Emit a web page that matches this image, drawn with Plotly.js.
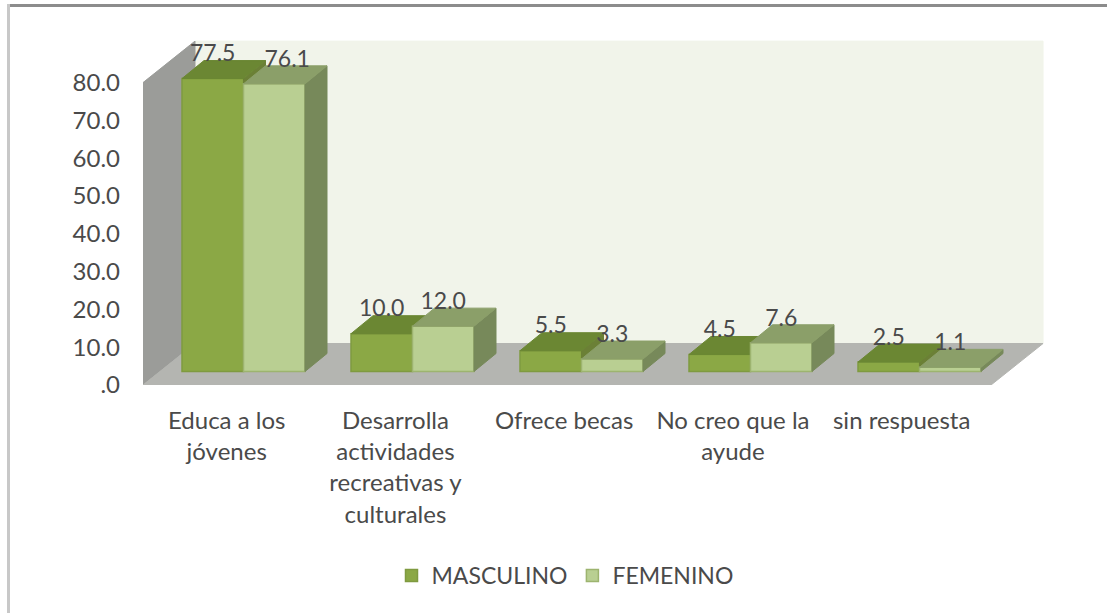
<!DOCTYPE html>
<html>
<head>
<meta charset="utf-8">
<script src="https://cdn.plot.ly/plotly-3.0.1.min.js"></script>
<style>
html,body{margin:0;padding:0;background:#fff;overflow:hidden}
#chart{width:1107px;height:613px;position:relative}
#frameTop{position:absolute;left:7px;right:0;top:4px;height:3px;background:#8c8c8c;z-index:5}
#frameLeft{position:absolute;left:7px;top:4px;bottom:0;width:3px;background:#c8c8c8;z-index:5}
</style>
</head>
<body>
<div id="chart"></div>
<div id="frameTop"></div>
<div id="frameLeft"></div>
<script>
var categories = ["Educa a los<br>jóvenes", "Desarrolla<br>actividades<br>recreativas y<br>culturales", "Ofrece becas", "No creo que la<br>ayude", "sin respuesta"];
var masculino = [77.5, 10.0, 5.5, 4.5, 2.5];
var femenino = [76.1, 12.0, 3.3, 7.6, 1.1];
var yTickVals = [0, 10, 20, 30, 40, 50, 60, 70, 80];
var yTickText = [".0", "10.0", "20.0", "30.0", "40.0", "50.0", "60.0", "70.0", "80.0"];

// scale, in data units
var PX_X = 169.4, PX_Y = 3.78;
var wallDX = 52 / PX_X, wallDY = 41.5 / PX_Y;
var barBase = 13.5 / PX_Y, barShift = 39 / PX_X - 0.5, barStep = 169 / PX_X;
var barW = 61.5 / PX_X, barDX = 22 / PX_X, barDY = 18 / PX_Y;
var labelUp = 23 / PX_Y;
var femLabelShift = [13 / PX_X, 0, 0, 0, 0];
var tickStart = -1 / PX_X, tickStep = 168.75 / PX_X;
var xMin = -0.5, xMax = xMin + 917 / PX_X, yMax = 365 / PX_Y, yTop = 80;
var idx = categories.map(function (_, i) { return i; });

function poly(points) {
  return {x: points.map(function (p) { return p[0]; }), y: points.map(function (p) { return p[1]; })};
}
function wall(pts, color, line) {
  var p = poly(pts);
  return {type: "scatter", mode: "lines", x: p.x, y: p.y, fill: "toself", fillcolor: color,
    line: {color: line || color, width: 1}, hoverinfo: "skip", showlegend: false, xaxis: "x", yaxis: "y"};
}
function faces(values, left, color, lineColor, kind, ax) {
  var xs = [], ys = [];
  values.forEach(function (v, i) {
    var x0 = i * barStep + barShift + left, x1 = x0 + barW, t = barBase + v, pts;
    if (kind === "top") pts = [[x0, t], [x1, t], [x1 + barDX, t + barDY], [x0 + barDX, t + barDY], [x0, t]];
    else pts = [[x1, barBase], [x1, t], [x1 + barDX, t + barDY], [x1 + barDX, barBase + barDY], [x1, barBase]];
    pts.forEach(function (p) { xs.push(p[0]); ys.push(p[1]); });
    xs.push(null); ys.push(null);
  });
  return {type: "scatter", mode: "lines", x: xs, y: ys, fill: "toself", fillcolor: color,
    line: {color: lineColor, width: 1}, hoverinfo: "skip", showlegend: false, xaxis: ax.x, yaxis: ax.y};
}
function front(name, values, left, color, lineColor, ax) {
  return {type: "bar", name: name, x: idx.map(function (i) { return i * barStep + barShift + left + barW / 2; }),
    y: values, base: values.map(function () { return barBase; }), width: barW,
    marker: {color: color, line: {color: lineColor, width: 1.5}}, xaxis: ax.x, yaxis: ax.y, hoverinfo: "name+y"};
}
function labels(values, left, shift, ax) {
  return {type: "scatter", mode: "text",
    x: values.map(function (v, i) { return i * barStep + barShift + left + barW / 2 + (shift ? shift[i] : 0); }),
    y: values.map(function (v) { return barBase + v + labelUp; }),
    text: values.map(function (v) { return v.toFixed(1); }), textposition: "middle center",
    textfont: {family: "Lato, Carlito, sans-serif", size: 23, color: "#4a4a4a"},
    hoverinfo: "skip", showlegend: false, xaxis: ax.x, yaxis: ax.y, cliponaxis: false};
}

var mid = {x: "x2", y: "y2"}, up = {x: "x3", y: "y3"};
var M = "#8ba845", ML = "#7f9a40", MT = "#6b8733", MS = "#6b8036";
var F = "#b9cf92", FL = "#9db46f", FT = "#8b9f69", FS = "#77895a";

var traces = [
  wall([[xMin + wallDX, wallDY], [xMax - 0.1, wallDY], [xMax - 0.1, yTop + wallDY], [xMin + wallDX, yTop + wallDY]], "#f1f4ea"),
  wall([[xMin, 0], [xMin + wallDX, wallDY], [xMin + wallDX, yTop + wallDY], [xMin, yTop]], "#9b9c99"),
  wall([[xMin, 0], [xMin + wallDX, wallDY], [xMax - 0.1, wallDY], [xMax - 0.1 - wallDX, 0]], "#b4b5b1"),
  front("MASCULINO", masculino, 0, M, ML, mid),
  faces(masculino, 0, MS, MS, "side", mid),
  faces(masculino, 0, MT, MT, "top", mid),
  front("FEMENINO", femenino, barW, F, FL, up),
  faces(femenino, barW, FS, FS, "side", up),
  faces(femenino, barW, FT, FT, "top", up),
  labels(masculino, 0, null, up),
  labels(femenino, barW, femLabelShift, up)
];

var fontFam = "Lato, Carlito, sans-serif";
var hidden = {range: [xMin, xMax], visible: false, fixedrange: true};
var layout = {
  width: 1107, height: 613,
  margin: {l: 143, r: 47, t: 20, b: 228},
  paper_bgcolor: "#ffffff", plot_bgcolor: "rgba(0,0,0,0)",
  barmode: "overlay", showlegend: true,
  legend: {orientation: "h", x: (565 - 143) / 917, xanchor: "center", y: -0.522, yanchor: "middle",
    font: {family: fontFam, size: 23, color: "#4a4a4a"}, itemclick: false, itemdoubleclick: false,
    traceorder: "normal", itemwidth: 30},
  xaxis: {range: [xMin, xMax], tickmode: "array", tickvals: idx.map(function (i) { return tickStart + i * tickStep; }),
    ticktext: categories, tickangle: 0,
    showgrid: false, zeroline: false, showline: false, ticks: "", ticklabelstandoff: 19,
    tickfont: {family: fontFam, size: 24, color: "#4a4a4a"}, fixedrange: true},
  yaxis: {range: [0, yMax], tickmode: "array", tickvals: yTickVals, ticktext: yTickText,
    showgrid: false, zeroline: false, showline: false, ticks: "", ticklabelstandoff: 22,
    tickfont: {family: fontFam, size: 24, color: "#4a4a4a"}, fixedrange: true},
  xaxis2: Object.assign({overlaying: "x", anchor: "y2"}, hidden),
  yaxis2: {range: [0, yMax], visible: false, overlaying: "y", anchor: "x2", fixedrange: true},
  xaxis3: Object.assign({overlaying: "x", anchor: "y3"}, hidden),
  yaxis3: {range: [0, yMax], visible: false, overlaying: "y", anchor: "x3", fixedrange: true}
};
Plotly.newPlot("chart", traces, layout, {displayModeBar: false});
</script>
</body>
</html>
